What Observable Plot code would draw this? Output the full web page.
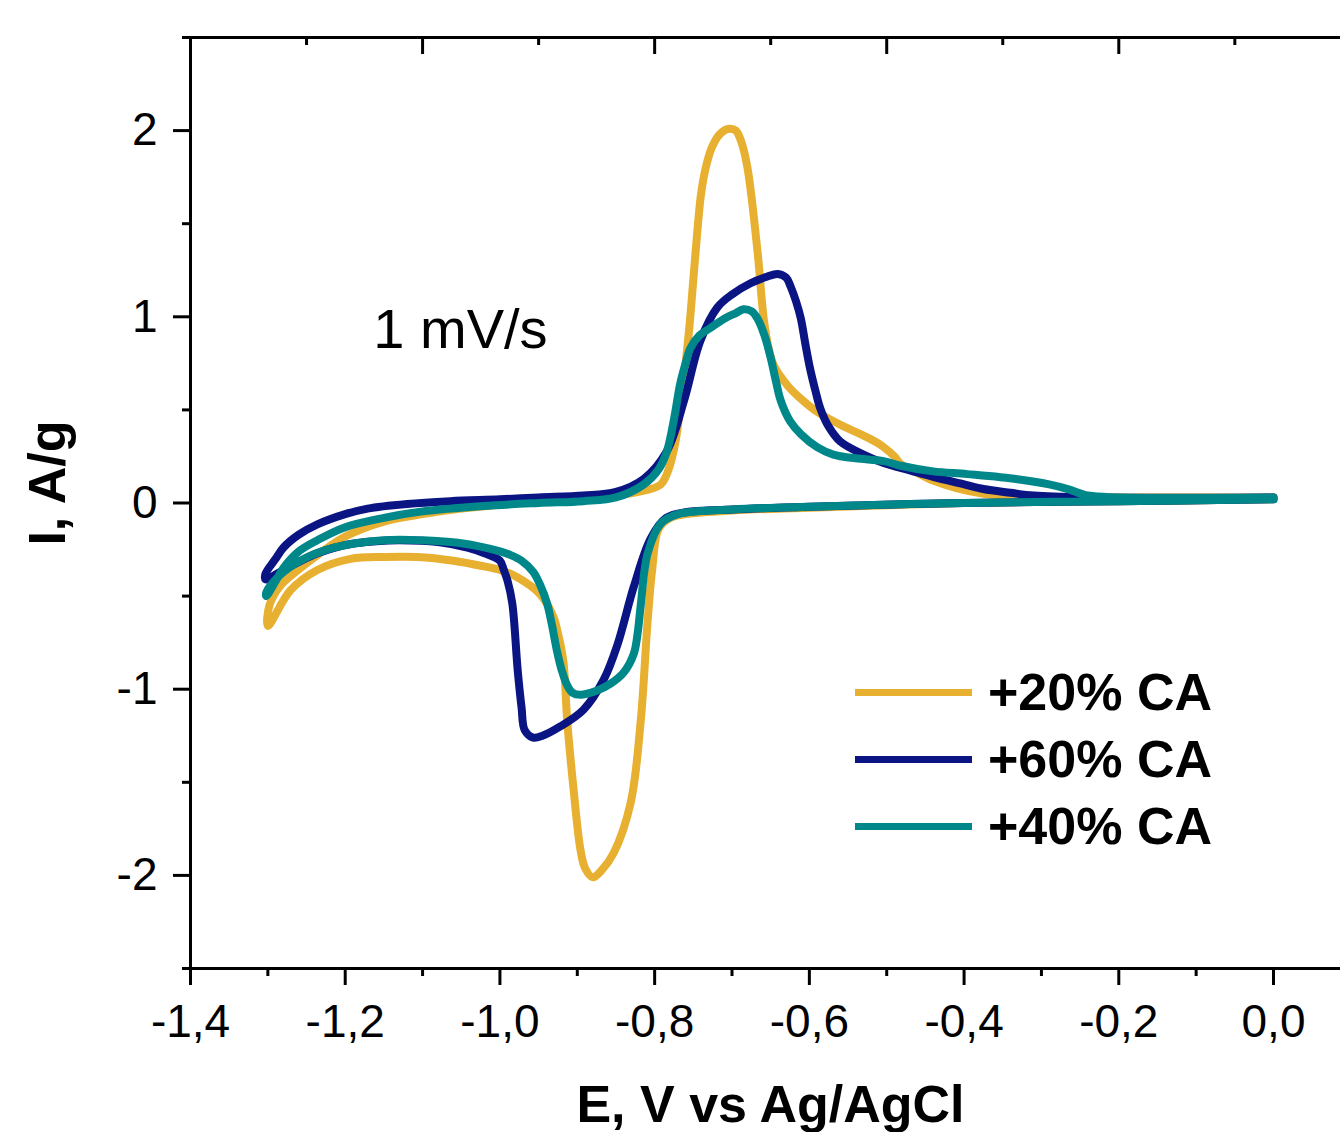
<!DOCTYPE html>
<html>
<head>
<meta charset="utf-8">
<script src="https://cdn.jsdelivr.net/npm/d3@7"></script>
<script src="https://cdn.jsdelivr.net/npm/@observablehq/plot@0.6"></script>
<style>
  html, body { margin: 0; padding: 0; background: #fff; }
  #wrap { position: relative; width: 1340px; height: 1132px; font-family: "Liberation Sans", Arial, sans-serif; }
  #legend { position: absolute; left: 855px; top: 659px; }
  .row { display: flex; align-items: center; height: 67px; }
  .sw { width: 117px; height: 7px; margin-right: 16px; }
  .lt { font-size: 52px; font-weight: bold; line-height: 67px; color: #000; white-space: nowrap; }
</style>
</head>
<body>
<div id="wrap"><div id="legend"></div></div>
<script>
// ---- series ----
const seriesNames = ["+20% CA", "+60% CA", "+40% CA"];
const seriesColors = ["#E8B030", "#0A1482", "#00878A"];

// +20% CA : cathodic branch (0 -> -1.3) then anodic branch (-1.3 -> 0)
const E_20 = [0.00,-0.20,-0.40,-0.60,-0.70,-0.76,-0.78,-0.795,-0.803,-0.809,-0.818,-0.831,-0.853,-0.868,-0.880,-0.890,-0.896,-0.905,-0.913,-0.918,-0.925,-0.931,-0.948,-0.977,-1.00,-1.021,-1.06,-1.107,-1.15,-1.193,-1.236,-1.271,-1.30,
  -1.298,-1.285,-1.267,-1.236,-1.20,-1.15,-1.10,-1.05,-1.00,-0.95,-0.90,-0.85,-0.81,-0.792,-0.782,-0.773,-0.766,-0.760,-0.755,-0.750,-0.745,-0.740,-0.734,-0.726,-0.716,-0.704,-0.695,-0.688,-0.680,-0.667,-0.659,-0.652,-0.646,-0.628,-0.611,-0.59,-0.56,-0.534,-0.515,-0.504,-0.49,-0.482,-0.46,-0.44,-0.41,-0.375,-0.33,-0.25,0.00];
const I_20 = [0.02,0.01,0.0,-0.025,-0.04,-0.06,-0.08,-0.14,-0.35,-0.63,-1.17,-1.61,-1.88,-1.97,-2.01,-1.96,-1.86,-1.53,-1.17,-0.85,-0.70,-0.61,-0.49,-0.40,-0.36,-0.34,-0.31,-0.29,-0.29,-0.30,-0.36,-0.47,-0.66,
  -0.55,-0.45,-0.38,-0.28,-0.18,-0.10,-0.06,-0.03,-0.01,0.01,0.02,0.04,0.07,0.10,0.18,0.33,0.55,0.75,0.95,1.20,1.45,1.66,1.80,1.91,1.98,2.01,2.00,1.94,1.80,1.35,0.99,0.82,0.74,0.63,0.56,0.49,0.42,0.37,0.33,0.30,0.25,0.21,0.16,0.12,0.08,0.05,0.035,0.03,0.03];

// +60% CA
const E_60 = [0.00,-0.20,-0.40,-0.60,-0.70,-0.76,-0.785,-0.805,-0.827,-0.848,-0.866,-0.892,-0.922,-0.945,-0.957,-0.968,-0.972,-0.977,-0.984,-0.990,-0.995,-1.00,-1.02,-1.042,-1.08,-1.129,-1.16,-1.193,-1.236,-1.28,-1.303,
  -1.303,-1.29,-1.28,-1.26,-1.236,-1.20,-1.171,-1.12,-1.064,-1.00,-0.95,-0.892,-0.85,-0.814,-0.784,-0.762,-0.741,-0.719,-0.70,-0.676,-0.655,-0.641,-0.630,-0.624,-0.617,-0.611,-0.605,-0.599,-0.592,-0.586,-0.575,-0.560,-0.53,-0.504,-0.47,-0.44,-0.40,-0.375,-0.34,-0.31,-0.246,0.00];
const I_60 = [0.02,0.01,0.0,-0.02,-0.035,-0.05,-0.08,-0.19,-0.45,-0.76,-0.95,-1.11,-1.20,-1.25,-1.26,-1.22,-1.10,-0.90,-0.54,-0.42,-0.36,-0.31,-0.27,-0.24,-0.21,-0.20,-0.205,-0.22,-0.27,-0.36,-0.41,
  -0.38,-0.30,-0.24,-0.17,-0.115,-0.06,-0.03,-0.005,0.01,0.02,0.03,0.04,0.06,0.13,0.28,0.55,0.87,1.05,1.12,1.18,1.215,1.23,1.21,1.16,1.08,0.99,0.85,0.72,0.60,0.51,0.41,0.33,0.26,0.215,0.175,0.14,0.10,0.075,0.055,0.04,0.03,0.03];

// +40% CA
const E_40 = [0.00,-0.20,-0.40,-0.60,-0.70,-0.77,-0.792,-0.809,-0.818,-0.822,-0.827,-0.840,-0.857,-0.876,-0.896,-0.906,-0.913,-0.92,-0.926,-0.933,-0.939,-0.948,-0.957,-0.972,-0.986,-1.00,-1.03,-1.064,-1.10,-1.15,-1.215,-1.258,-1.285,-1.302,
  -1.302,-1.29,-1.28,-1.26,-1.236,-1.20,-1.15,-1.10,-1.021,-0.95,-0.892,-0.85,-0.814,-0.795,-0.784,-0.775,-0.767,-0.760,-0.754,-0.742,-0.728,-0.71,-0.695,-0.685,-0.675,-0.667,-0.658,-0.650,-0.643,-0.637,-0.625,-0.611,-0.59,-0.569,-0.54,-0.504,-0.482,-0.44,-0.396,-0.331,-0.29,-0.266,-0.24,-0.20,0.00];
const I_40 = [0.02,0.01,0.0,-0.02,-0.035,-0.06,-0.11,-0.27,-0.55,-0.70,-0.81,-0.91,-0.97,-1.01,-1.03,-1.02,-0.98,-0.90,-0.80,-0.65,-0.54,-0.44,-0.37,-0.31,-0.28,-0.26,-0.23,-0.21,-0.20,-0.20,-0.24,-0.31,-0.39,-0.48,
  -0.50,-0.42,-0.35,-0.26,-0.20,-0.13,-0.08,-0.045,-0.016,0.0,0.01,0.03,0.10,0.18,0.28,0.45,0.64,0.75,0.83,0.90,0.94,0.99,1.02,1.04,1.03,0.99,0.90,0.78,0.65,0.55,0.44,0.37,0.30,0.26,0.24,0.225,0.20,0.17,0.155,0.128,0.10,0.075,0.04,0.03,0.03];

// ---- axes ----
const xDomain = [-1.4, 0.0866];
const yDomain = [-2.5, 2.5];
const xMajor = [-1.4,-1.2,-1.0,-0.8,-0.6,-0.4,-0.2,0.0];
const xTickLabels = ["-1,4","-1,2","-1,0","-0,8","-0,6","-0,4","-0,2","0,0"];
const xMinor = [-1.3,-1.1,-0.9,-0.7,-0.5,-0.3,-0.1];
const xTopMajor = [-1.1,-0.8,-0.5,-0.2];
const xTopMinor = [-1.25,-0.95,-0.65,-0.35,-0.05];
const yMajor = [-2,-1,0,1,2];
const yTickLabels = ["-2","-1","0","1","2"];
const yMinor = [-1.5,-0.5,0.5,1.5];
const xTitle = "E, V vs Ag/AgCl";
const yTitle = "I, A/g";
const annotations = [{label: "1 mV/s", E: -1.051, I: 0.93}];

// build table
const arrays = [[E_20, I_20], [E_60, I_60], [E_40, I_40]];
const data = [];
arrays.forEach(([E, I], s) => E.forEach((e, k) => data.push({series: seriesNames[s], E: e, I: I[k]})));

const W = 1340, H = 1132, mT = 37, mB = 164, mL = 190, mR = 0;
const frameH = H - mT - mB;

const chart = Plot.plot({
  width: W, height: H,
  marginTop: mT, marginBottom: mB, marginLeft: mL, marginRight: mR,
  style: {fontFamily: "'Liberation Sans', Arial, sans-serif", background: "#fff", color: "#000"},
  x: {domain: xDomain},
  y: {domain: yDomain},
  color: {domain: seriesNames, range: seriesColors},
  marks: [
    Plot.line(data, {x: "E", y: "I", z: "series", stroke: "series", strokeWidth: 8, curve: "catmull-rom", strokeLinejoin: "round", strokeLinecap: "round"}),
    // frame lines
    Plot.ruleX([xDomain[0]], {strokeWidth: 3}),
    Plot.ruleY([yDomain[0]], {strokeWidth: 3, insetLeft: -8}),
    Plot.ruleY([yDomain[1]], {strokeWidth: 3, insetLeft: -8}),
    // bottom axis
    Plot.axisX({ticks: xMajor, tickSize: 17, tickPadding: 19, strokeWidth: 3, fontSize: 46, label: null,
      tickFormat: d => xTickLabels[xMajor.indexOf(d)]}),
    Plot.axisX({ticks: xMinor, tickSize: 8, strokeWidth: 3, text: null, label: null}),
    // top inward ticks
    Plot.tickX(xTopMajor, {x: d => d, strokeWidth: 3, insetBottom: frameH - 17}),
    Plot.tickX(xTopMinor, {x: d => d, strokeWidth: 3, insetBottom: frameH - 8}),
    // left axis
    Plot.axisY({ticks: yMajor, tickSize: 17, tickPadding: 16, strokeWidth: 3, fontSize: 46, label: null,
      tickFormat: d => yTickLabels[yMajor.indexOf(d)]}),
    Plot.axisY({ticks: yMinor, tickSize: 8, strokeWidth: 3, text: null, label: null}),
    // titles
    Plot.text([xTitle], {frameAnchor: "bottom", text: d => d, textAnchor: "middle", lineAnchor: "middle", dy: 137, dx: 5, fontSize: 52, fontWeight: "bold"}),
    Plot.text([yTitle], {frameAnchor: "left", text: d => d, textAnchor: "middle", lineAnchor: "middle", rotate: -90, dx: -142, dy: -20, fontSize: 52, fontWeight: "bold"}),
    Plot.text(annotations, {x: "E", y: "I", text: "label", fontSize: 56})
  ]
});

const wrap = document.getElementById("wrap");
wrap.insertBefore(chart, wrap.firstChild);
chart.style.position = "absolute";
chart.style.left = "0px";
chart.style.top = "0px";

const legend = document.getElementById("legend");
seriesNames.forEach((name, i) => {
  const row = document.createElement("div");
  row.className = "row";
  const sw = document.createElement("div");
  sw.className = "sw";
  sw.style.background = seriesColors[i];
  const t = document.createElement("span");
  t.className = "lt";
  t.textContent = name;
  row.appendChild(sw); row.appendChild(t);
  legend.appendChild(row);
});
</script>
</body>
</html>
